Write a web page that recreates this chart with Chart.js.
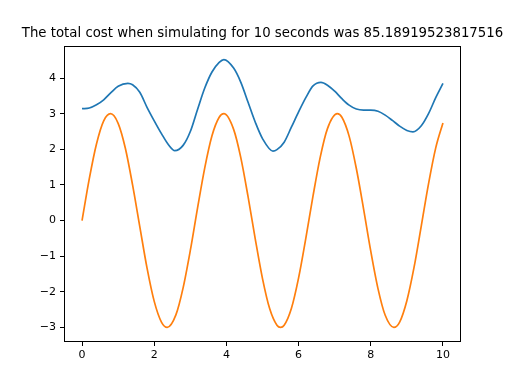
<!DOCTYPE html>
<html>
<head>
<meta charset="utf-8">
<script src="https://cdn.jsdelivr.net/npm/chart.js@4"></script>
<style>
    html, body { margin: 0; padding: 0; background: #fff; }
    #wrap { width: 512px; height: 384px; }
</style>
</head>
<body>
<div id="wrap"><canvas id="costChart" width="512" height="384"></canvas></div>
<script>
const titleText = "The total cost when simulating for 10 seconds was 85.18919523817516";

// blue series: sample times (s) and values
const blueTimes = [0, 0.2, 0.4, 0.6, 0.8, 1.0, 1.27, 1.4, 1.6, 1.8, 2.0, 2.2, 2.4, 2.57, 2.8, 3.0,
    3.2, 3.4, 3.6, 3.8, 3.93, 4.2, 4.4, 4.6, 4.8, 5.0, 5.29, 5.4, 5.6, 5.8, 6.0, 6.2, 6.4, 6.62,
    6.8, 7.0, 7.2, 7.4, 7.6, 7.8, 8.0, 8.2, 8.4, 8.6, 8.8, 9.0, 9.17, 9.4, 9.6, 9.8, 10];
const blueValues = [3.14, 3.16, 3.25, 3.39, 3.59, 3.77, 3.85, 3.81, 3.60, 3.18, 2.80, 2.44, 2.12, 1.96, 2.11, 2.50,
    3.12, 3.72, 4.17, 4.44, 4.52, 4.28, 3.88, 3.32, 2.76, 2.30, 1.95, 1.99, 2.20, 2.62, 3.05, 3.45, 3.78, 3.88,
    3.80, 3.63, 3.42, 3.24, 3.13, 3.10, 3.10, 3.07, 2.96, 2.81, 2.65, 2.53, 2.49, 2.66, 3.00, 3.45, 3.85];

// orange series
const orangeTimes = [0, 0.2, 0.4, 0.6, 0.79, 1.0, 1.2, 1.4, 1.6, 1.8, 2.0, 2.2, 2.36, 2.6, 2.8, 3.0,
    3.2, 3.4, 3.6, 3.8, 3.93, 4.2, 4.4, 4.6, 4.8, 5.0, 5.2, 5.4, 5.5, 5.6, 5.8, 6.0, 6.2, 6.4, 6.6,
    6.8, 7.07, 7.2, 7.4, 7.6, 7.8, 8.0, 8.2, 8.4, 8.64, 8.8, 9.0, 9.2, 9.4, 9.6, 9.8, 10];
const orangeValues = [0, 1.17, 2.15, 2.80, 3.00, 2.73, 2.03, 1.00, -0.17, -1.33, -2.27, -2.85, -3.00, -2.65, -1.89, -0.84,
    0.35, 1.48, 2.38, 2.90, 3.00, 2.56, 1.76, 0.67, -0.52, -1.63, -2.48, -2.94, -3.00, -2.94, -2.47, -1.61, -0.50, 0.69, 1.78,
    2.58, 3.00, 2.90, 2.37, 1.46, 0.33, -0.86, -1.91, -2.66, -3.00, -2.85, -2.25, -1.31, -0.15, 1.03, 2.04, 2.74];

const xTicks = [0, 2, 4, 6, 8, 10];
const yTicks = [-3, -2, -1, 0, 1, 2, 3, 4];

const toPoints = (ts, vals) => vals.map((v, i) => ({ x: ts[i], y: v }));
const fmt = (v) => (v < 0 ? "\u2212" + Math.abs(v) : String(v));

// frame around the plot + title centred over the axes
const framePlugin = {
    id: "frame",
    afterDraw(chart) {
        const { ctx, chartArea: a } = chart;
        ctx.save();
        ctx.strokeStyle = "#000";
        ctx.lineWidth = 1;
        ctx.strokeRect(Math.round(a.left) + 0.5, Math.round(a.top) + 0.5,
            Math.round(a.right - a.left) - 1, Math.round(a.bottom - a.top) - 1);
        ctx.fillStyle = "#000";
        ctx.font = "13.3px 'DejaVu Sans'";
        ctx.textAlign = "center";
        ctx.textBaseline = "middle";
        ctx.fillText(titleText, (a.left + a.right) / 2, 34);
        ctx.restore();
    }
};

const tickFont = { family: "'DejaVu Sans'", size: 11 };

function lineSet(ts, vals, color) {
    return {
        data: toPoints(ts, vals),
        borderColor: color,
        borderWidth: 1.7,
        pointRadius: 0,
        cubicInterpolationMode: "monotone",
        fill: false
    };
}

new Chart(document.getElementById("costChart").getContext("2d"), {
    type: "line",
    data: {
        datasets: [
            lineSet(blueTimes, blueValues, "#1f77b4"),
            lineSet(orangeTimes, orangeValues, "#ff7f0e")
        ]
    },
    options: {
        responsive: false,
        animation: false,
        events: [],
        layout: { padding: { top: 46, right: 51, bottom: 0, left: 0 } },
        plugins: {
            legend: { display: false },
            title: { display: false },
            tooltip: { enabled: false }
        },
        scales: {
            x: {
                type: "linear",
                min: -0.5,
                max: 10.5,
                afterBuildTicks: (axis) => { axis.ticks = xTicks.map(v => ({ value: v })); },
                afterFit: (axis) => { axis.height = 42; },
                grid: { drawOnChartArea: false, drawTicks: true, tickLength: 4, color: "#000" },
                border: { display: false },
                ticks: { color: "#000", font: tickFont, padding: 3, maxRotation: 0, callback: fmt }
            },
            y: {
                type: "linear",
                min: -3.41,
                max: 4.9,
                afterBuildTicks: (axis) => { axis.ticks = yTicks.map(v => ({ value: v })); },
                afterFit: (axis) => { axis.width = 64; },
                grid: { drawOnChartArea: false, drawTicks: true, tickLength: 4, color: "#000" },
                border: { display: false },
                ticks: { color: "#000", font: tickFont, padding: 4, callback: fmt }
            }
        }
    },
    plugins: [framePlugin]
});
</script>
</body>
</html>
